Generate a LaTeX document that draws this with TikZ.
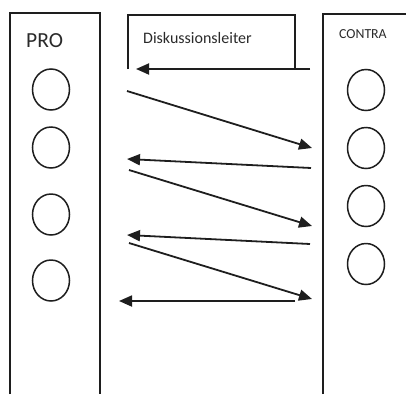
\documentclass[tikz,border=0pt]{standalone}
\usepackage{fontspec}
\setmainfont{Carlito}
\usetikzlibrary{arrows.meta,shapes.geometric}
\definecolor{ink}{HTML}{1E1E1E}
\definecolor{txt}{HTML}{2A2A2A}
\tikzset{
  panel/.style={draw=ink, line width=1.4pt},
  seat/.style={draw=ink, line width=1.5pt, ellipse, minimum width=37pt, minimum height=41pt, inner sep=0pt},
  talk/.style={draw=ink, line width=1.8pt, -{Triangle[length=13pt,width=11pt]}},
  label/.style={text=txt, inner sep=0pt, anchor=base west}
}
\begin{document}
\begin{tikzpicture}[x=1pt, y=-1pt]
  \useasboundingbox (0,0) rectangle (406,394);

  % side panels
  \draw[panel] (10,394) -- (10,13) -- (100,13) -- (100,394);
  \draw[panel] (323,394) -- (323,14) -- (406,14);
  \node[label, font=\fontsize{21.5}{24}\selectfont] (pro) at (26,47) {PRO};
  \node[label, font=\fontsize{13.8}{15}\selectfont] (contra) at (339,38) {CONTRA};

  % moderator box
  \draw[panel] (128,69) -- (128,15) -- (295,15) -- (295,69);
  \node[label, font=\fontsize{16}{18}\selectfont] (mod) at (143,43) {Diskussionsleiter};

  % speakers
  \foreach \i/\y in {1/89.5, 2/147.5, 3/214.5, 4/280.5}
    \node[seat] (p\i) at (51,\y) {};
  \foreach \i/\y in {1/90, 2/148, 3/206, 4/264}
    \node[seat] (c\i) at (366,\y) {};

  % arrow end points
  \coordinate (a0) at (310,69);  \coordinate (b0) at (136,69);
  \coordinate (a1) at (127,91);  \coordinate (b1) at (312,148);
  \coordinate (a2) at (311,168); \coordinate (b2) at (127,159);
  \coordinate (a3) at (129,170); \coordinate (b3) at (312,226);
  \coordinate (a4) at (310,244); \coordinate (b4) at (127,235);
  \coordinate (a5) at (129,243); \coordinate (b5) at (312,299);
  \coordinate (a6) at (295,301); \coordinate (b6) at (119,301);

  \foreach \k in {0,...,6}
    \draw[talk] (a\k) -- (b\k);
\end{tikzpicture}
\end{document}
